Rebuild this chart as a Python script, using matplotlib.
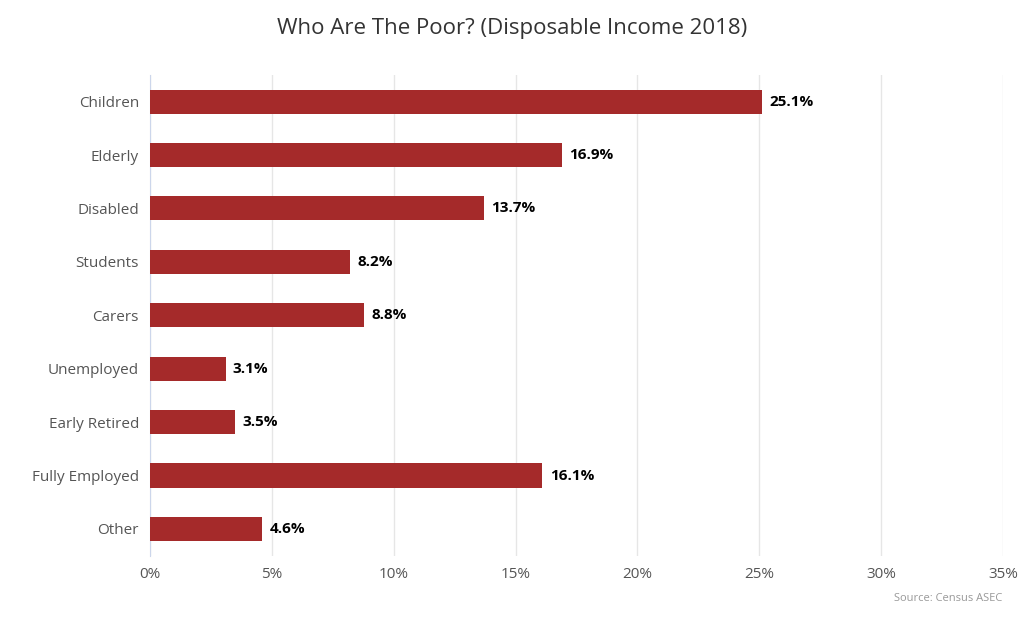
import matplotlib
matplotlib.use("Agg")
import matplotlib.pyplot as plt

categories = ["Children", "Elderly", "Disabled", "Students", "Carers",
              "Unemployed", "Early Retired", "Fully Employed", "Other"]
values = [25.1, 16.9, 13.7, 8.2, 8.8, 3.1, 3.5, 16.1, 4.6]
xticks = [0, 5, 10, 15, 20, 25, 30, 35]

plt.rcParams['font.family'] = ['Open Sans', 'DejaVu Sans']

fig = plt.figure(figsize=(10.24, 6.35), dpi=100)
ax = fig.add_axes([0.1465, 0.125, 0.833, 0.757])

pos = list(range(len(categories)))
ax.barh(pos, values, height=0.45, color="#a52a2a", zorder=3)
for p, v in zip(pos, values):
    ax.text(v + 0.3, p, "%.1f%%" % v, va="center", ha="left",
            fontsize=11, fontweight="bold", color="#000000")

ax.set_ylim(len(categories) - 0.5, -0.5)
ax.set_yticks(pos)
ax.set_yticklabels(categories, fontsize=11, color="#555555")
ax.set_xlim(0, 35)
ax.set_xticks(xticks)
ax.set_xticklabels(["%d%%" % t for t in xticks], fontsize=11, color="#555555")
ax.tick_params(length=0, pad=8)
ax.grid(axis="x", color="#e6e6e6", linewidth=1, zorder=0)
for s in ["top", "right", "bottom"]:
    ax.spines[s].set_visible(False)
ax.spines["left"].set_color("#ccd6eb")

fig.text(0.5, 0.955, "Who Are The Poor? (Disposable Income 2018)",
         ha="center", va="center", fontsize=16, color="#333333")
fig.text(0.979, 0.058, "Source: Census ASEC", ha="right", va="center",
         fontsize=8, color="#999999")

fig.savefig("out.png", dpi=100)
